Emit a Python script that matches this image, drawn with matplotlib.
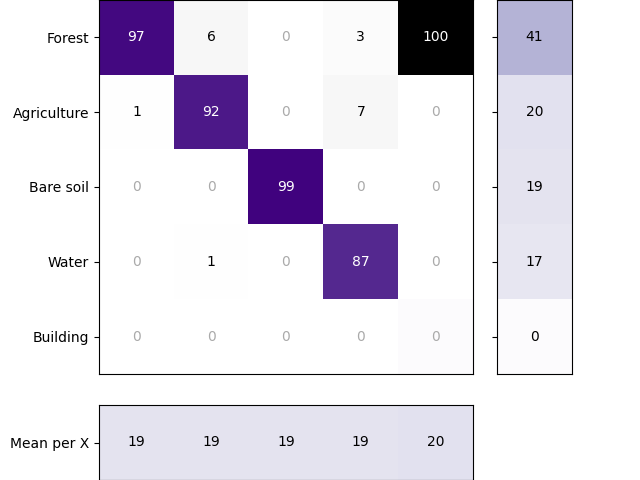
import numpy as np
import matplotlib
matplotlib.use("Agg")
import matplotlib.pyplot as plt

# class labels and confusion values (percent)
classes = ["Forest", "Agriculture", "Bare soil", "Water", "Building"]
matrix = [
    [97, 6, 0, 3, 100],
    [1, 92, 0, 7, 0],
    [0, 0, 99, 0, 0],
    [0, 1, 0, 87, 0],
    [0, 0, 0, 0, 0],
]
row_means = [41, 20, 19, 17, 0]
col_means = [19, 19, 19, 19, 20]

cm = np.array(matrix, dtype=float)
n = len(classes)
diag_mask = np.eye(n, dtype=bool)

fig = plt.figure(figsize=(6.4, 4.8), dpi=100)
ax = fig.add_axes([99 / 640, 106 / 480, 374 / 640, 374 / 480])
ax_r = fig.add_axes([497 / 640, 106 / 480, 75 / 640, 374 / 480])
ax_b = fig.add_axes([99 / 640, 0, 374 / 640, 75 / 480])

# diagonal in purples, off-diagonal in greys
ax.imshow(np.ma.masked_where(diag_mask, cm), cmap="Greys", vmin=0, vmax=100, aspect="auto")
ax.imshow(np.ma.masked_where(~diag_mask, cm), cmap="Purples", vmin=0, vmax=100, aspect="auto")
for i in range(n):
    for j in range(n):
        v = cm[i, j]
        if v == 0:
            c = "#aaaaaa"
        elif v > 50:
            c = "white"
        else:
            c = "black"
        ax.text(j, i, f"{int(v)}", ha="center", va="center", color=c, fontsize=10)
ax.set_yticks(range(n))
ax.set_yticklabels(classes)
ax.set_xticks([])

# mean per row
ax_r.imshow(np.array(row_means, dtype=float).reshape(-1, 1), cmap="Purples", vmin=0, vmax=100, aspect="auto")
for i, v in enumerate(row_means):
    ax_r.text(0, i, f"{v}", ha="center", va="center", color="black", fontsize=10)
ax_r.set_yticks(range(n))
ax_r.set_yticklabels([])
ax_r.set_xticks([])

# mean per column
ax_b.imshow(np.array(col_means, dtype=float).reshape(1, -1), cmap="Purples", vmin=0, vmax=100, aspect="auto")
for j, v in enumerate(col_means):
    ax_b.text(j, 0, f"{v}", ha="center", va="center", color="black", fontsize=10)
ax_b.set_yticks([0])
ax_b.set_yticklabels(["Mean per X"])
ax_b.set_xticks([])

fig.savefig("out.png", dpi=100)
